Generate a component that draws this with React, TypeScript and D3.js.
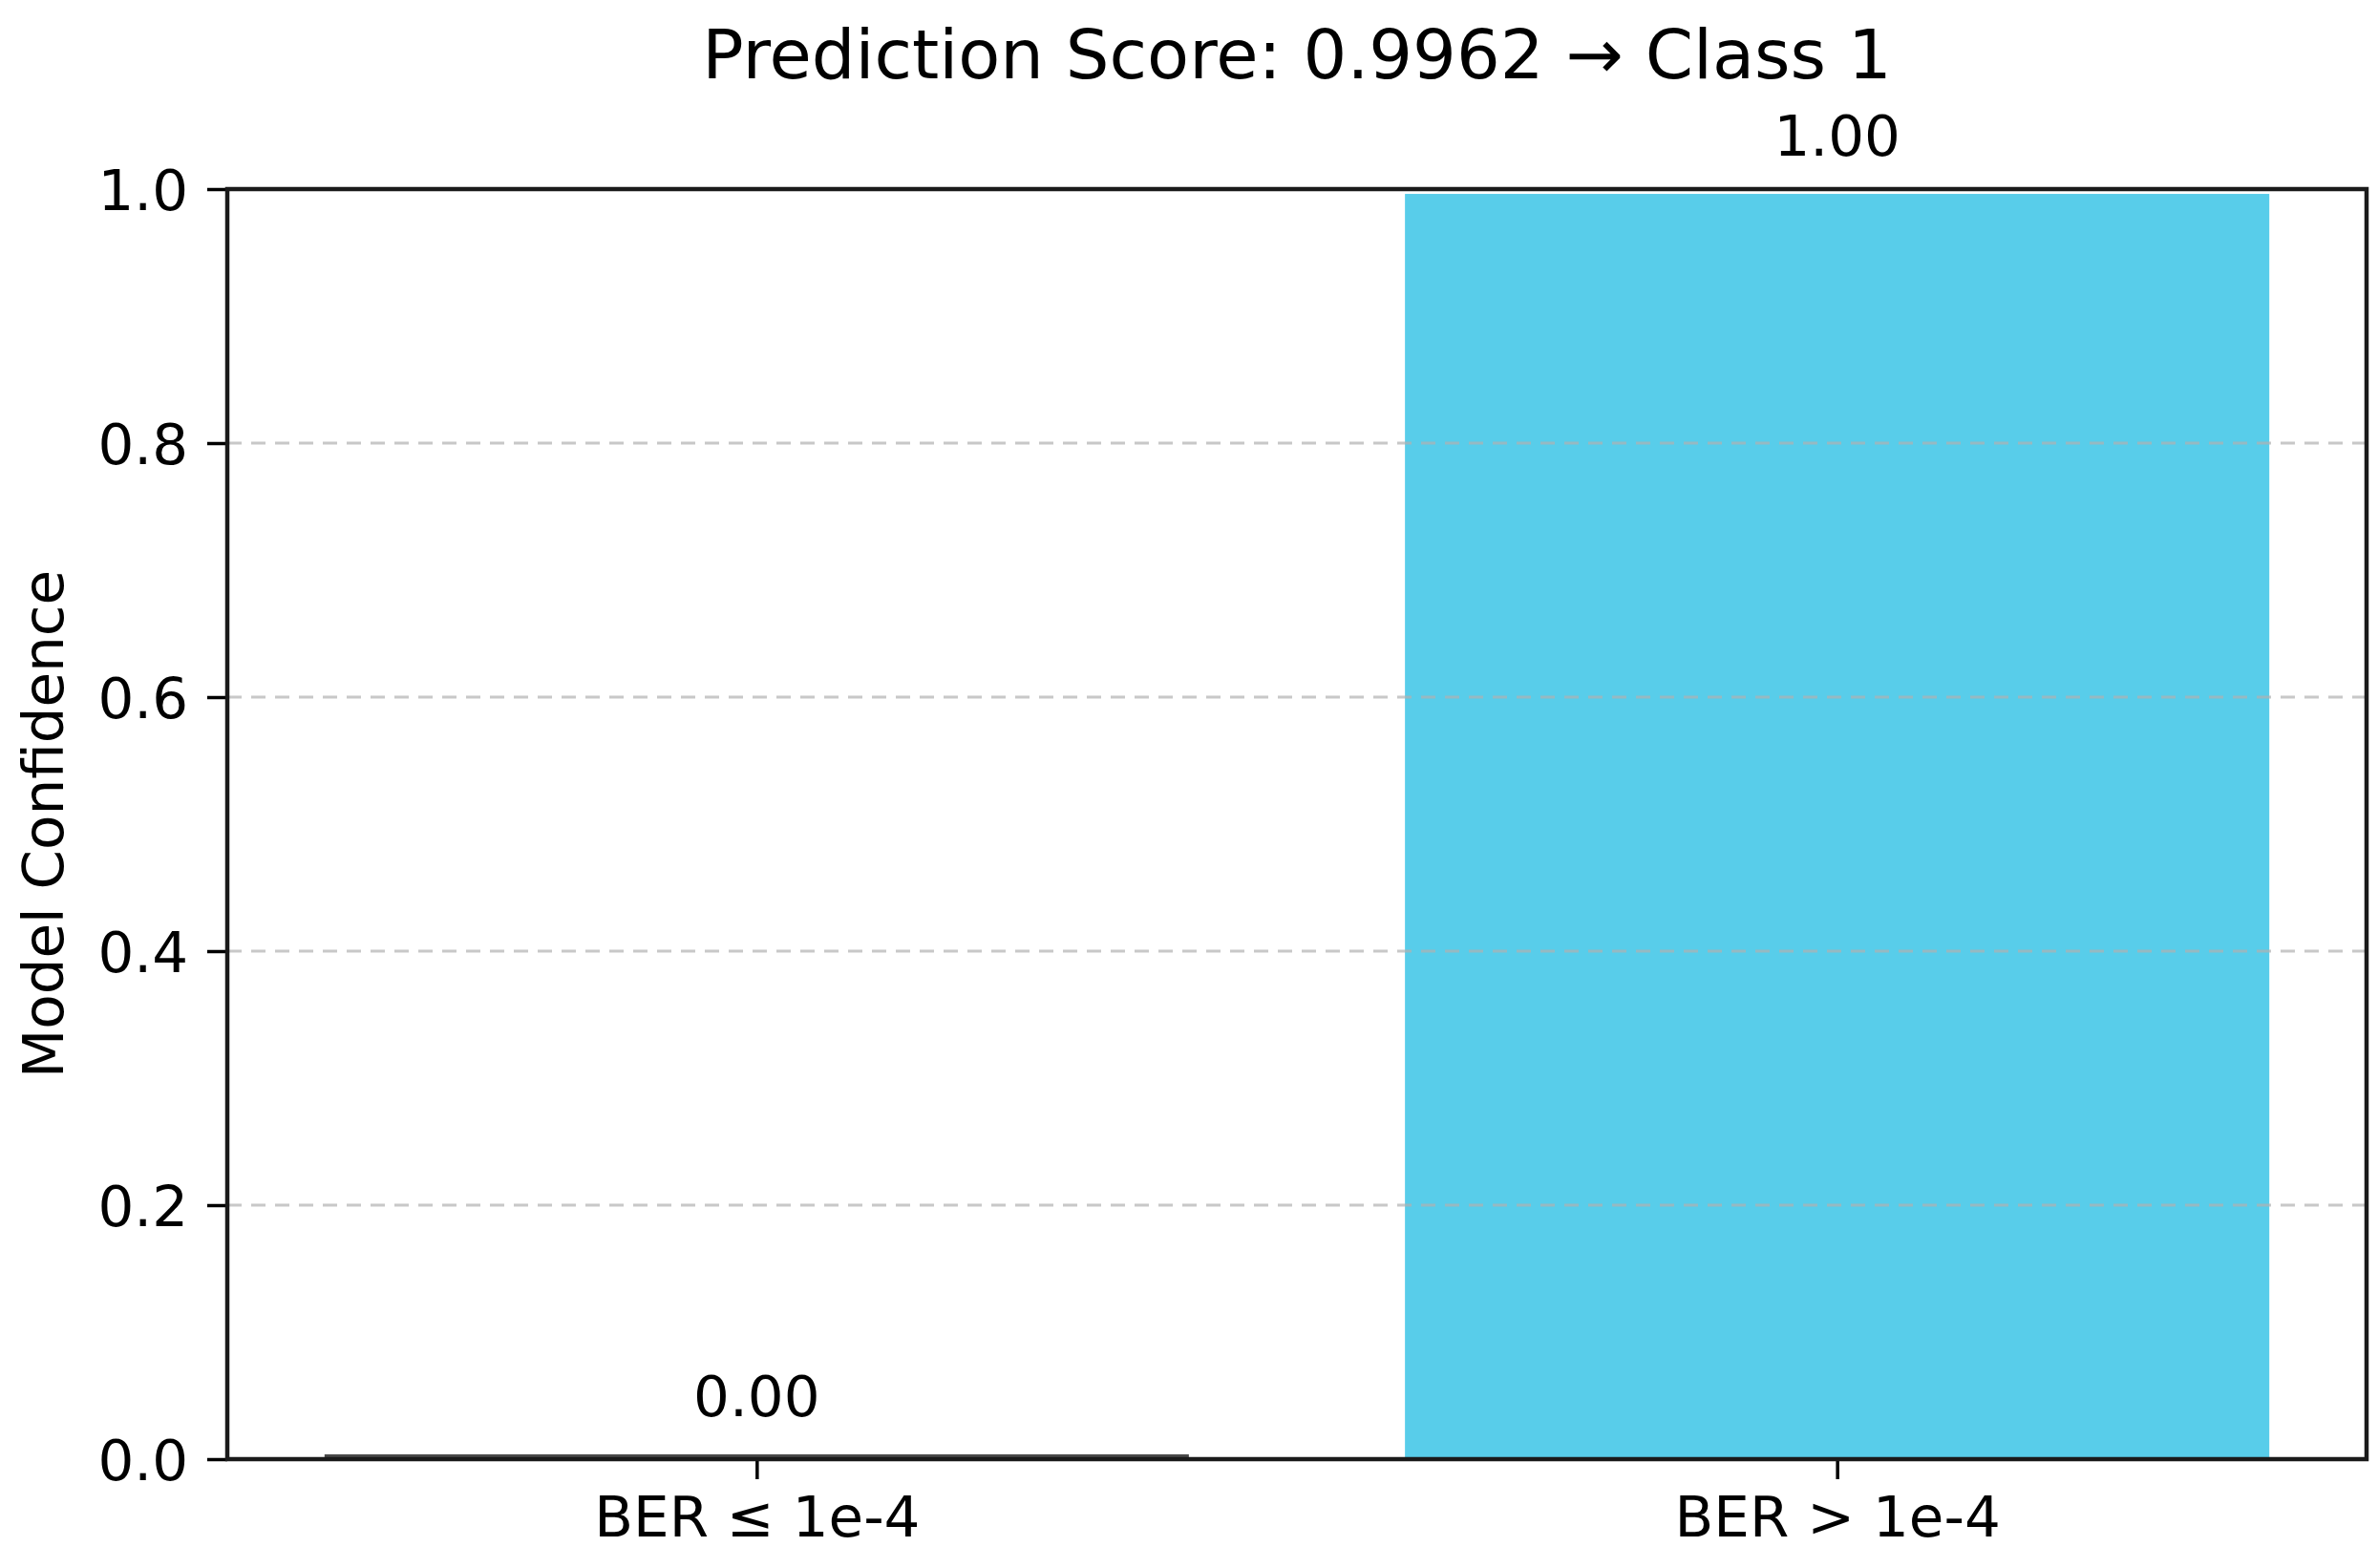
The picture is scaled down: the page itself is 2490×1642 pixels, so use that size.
import React, { useEffect, useRef } from 'react';
import * as d3 from 'd3';

const categories = ['BER ≤ 1e-4', 'BER > 1e-4'];
const confidences = [0.0038, 0.9962];
const barColors = ['#4a4a4a', '#58cdea'];
const yTicks = [0.0, 0.2, 0.4, 0.6, 0.8, 1.0];
const gridTicks = [0.2, 0.4, 0.6, 0.8];
const titleText = 'Prediction Score: 0.9962 → Class 1';
const yLabelText = 'Model Confidence';

const App = () => {
  const chartRef = useRef<HTMLDivElement | null>(null);

  useEffect(() => {
    document.body.style.margin = '0';
    d3.select(chartRef.current).selectAll('*').remove();

    const width = 2490;
    const height = 1642;
    const margin = { top: 198, right: 12, bottom: 114, left: 238 };
    const font = '"DejaVu Sans", sans-serif';
    const labelSize = '59.5px';

    const svg = d3.select(chartRef.current)
      .append('svg')
      .attr('width', width)
      .attr('height', height)
      .style('display', 'block')
      .style('background', '#fff');

    // x as a linear scale so the bars sit like matplotlib (width 0.8, 5% margins)
    const xScale = d3.scaleLinear()
      .domain([-0.49, 1.49])
      .range([margin.left, width - margin.right]);

    const yScale = d3.scaleLinear()
      .domain([0, 1])
      .range([height - margin.bottom, margin.top]);

    const barWidth = 0.8;

    // bars
    svg.append('g')
      .selectAll('rect')
      .data(confidences)
      .enter()
      .append('rect')
      .attr('x', (d, i) => xScale(i - barWidth / 2))
      .attr('y', d => yScale(d))
      .attr('width', (d, i) => xScale(i + barWidth / 2) - xScale(i - barWidth / 2))
      .attr('height', d => yScale(0) - yScale(d))
      .attr('fill', (d, i) => barColors[i]);

    // dashed grid on top of the bars
    svg.append('g')
      .selectAll('line')
      .data(gridTicks)
      .enter()
      .append('line')
      .attr('x1', xScale(-0.49))
      .attr('x2', xScale(1.49))
      .attr('y1', d => yScale(d))
      .attr('y2', d => yScale(d))
      .attr('stroke', '#b0b0b0')
      .attr('stroke-opacity', 0.7)
      .attr('stroke-width', 3)
      .attr('stroke-dasharray', '15,10');

    // value labels
    svg.append('g')
      .selectAll('text')
      .data(confidences)
      .enter()
      .append('text')
      .attr('x', (d, i) => xScale(i))
      .attr('y', d => yScale(d) - 40)
      .attr('text-anchor', 'middle')
      .style('font-family', font)
      .style('font-size', labelSize)
      .style('fill', '#000')
      .text(d => d.toFixed(2));

    // y axis
    const yAxis = d3.axisLeft(yScale)
      .tickValues(yTicks)
      .tickFormat(d3.format('.1f'))
      .tickSize(21)
      .tickPadding(20);

    const yG = svg.append('g')
      .attr('transform', `translate(${margin.left},0)`)
      .call(yAxis);
    yG.select('.domain').remove();
    yG.selectAll('line').attr('stroke', '#000').attr('stroke-width', 3.5);
    yG.selectAll('text')
      .style('font-family', font)
      .style('font-size', labelSize)
      .attr('fill', '#000')
      .attr('dy', '0.36em');

    // x axis
    const xAxis = d3.axisBottom(xScale)
      .tickValues([0, 1])
      .tickFormat((d, i) => categories[i])
      .tickSize(21)
      .tickPadding(15);

    const xG = svg.append('g')
      .attr('transform', `translate(0,${height - margin.bottom})`)
      .call(xAxis);
    xG.select('.domain').remove();
    xG.selectAll('line').attr('stroke', '#000').attr('stroke-width', 3.5);
    xG.selectAll('text')
      .style('font-family', font)
      .style('font-size', labelSize)
      .attr('fill', '#000')
      .attr('dy', '0.76em');

    // frame
    svg.append('rect')
      .attr('x', margin.left)
      .attr('y', margin.top)
      .attr('width', width - margin.right - margin.left)
      .attr('height', height - margin.bottom - margin.top)
      .attr('fill', 'none')
      .attr('stroke', '#1a1a1a')
      .attr('stroke-width', 4.5);

    // title
    svg.append('text')
      .attr('x', (margin.left + width - margin.right) / 2)
      .attr('y', 82)
      .attr('text-anchor', 'middle')
      .style('font-family', font)
      .style('font-size', '72px')
      .style('fill', '#000')
      .text(titleText);

    // y label
    svg.append('text')
      .attr('transform', `translate(66,${(margin.top + height - margin.bottom) / 2}) rotate(-90)`)
      .attr('text-anchor', 'middle')
      .style('font-family', font)
      .style('font-size', labelSize)
      .style('fill', '#000')
      .text(yLabelText);
  }, []);

  return <div ref={chartRef}></div>;
};

export default App;
